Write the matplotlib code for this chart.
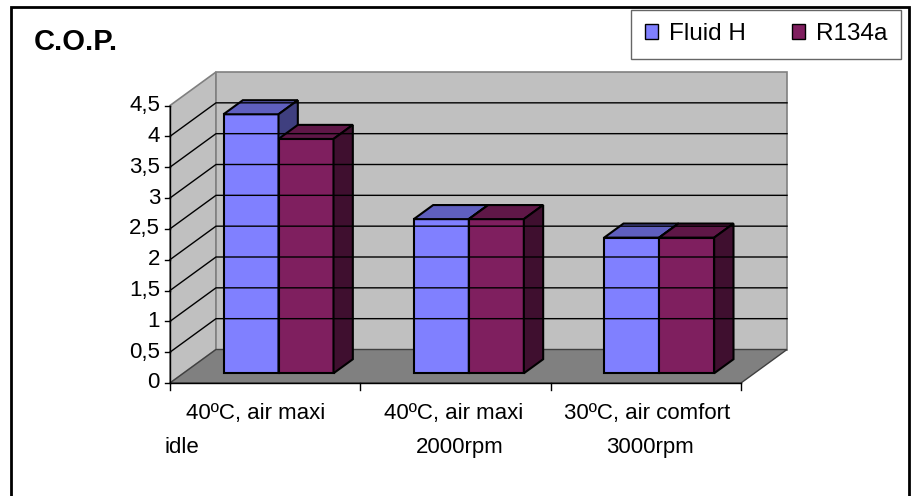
import matplotlib.pyplot as plt
from matplotlib.patches import Polygon, Rectangle, Patch

# chart data
categories_top = ["40ºC, air maxi", "40ºC, air maxi", "30ºC, air comfort"]
categories_bottom = ["idle", "2000rpm", "3000rpm"]
series_names = ["Fluid H", "R134a"]
fluid_h = [4.2, 2.5, 2.2]
r134a = [3.8, 2.5, 2.2]
y_ticks = [0, 0.5, 1, 1.5, 2, 2.5, 3, 3.5, 4, 4.5]
y_tick_labels = ["0", "0,5", "1", "1,5", "2", "2,5", "3", "3,5", "4", "4,5"]

plt.rcParams['font.family'] = ['Liberation Sans', 'DejaVu Sans']

# face colours: front, top, side
blue = ('#8080FF', '#5F5FBF', '#3F3F7F')
plum = ('#7F1F5F', '#5F1747', '#3F0F2F')

W, H = 913, 496
fig = plt.figure(figsize=(W / 100, H / 100), dpi=100)
ax = fig.add_axes([0, 0, 1, 1])

# front frame in pixels: categories 0..3, values 0..4.5
x0_px, x3_px = 170, 741
y0_px, ytop_px = 383, 105.5
ymax = y_ticks[-1]
sx = (x3_px - x0_px) / 3
sy = (y0_px - ytop_px) / ymax
ax.set_xlim(-x0_px / sx, (W - x0_px) / sx)
ax.set_ylim(-(H - y0_px) / sy, y0_px / sy)
ax.axis('off')

# oblique depth of the whole box
DX, DY = 46 / sx, 33.5 / sy
n = len(fluid_h)

# walls and floor
ax.add_patch(Polygon([(0, 0), (DX, DY), (DX, ymax + DY), (0, ymax)],
                     fc='#C0C0C0', ec='#808080', lw=1.2))
ax.add_patch(Polygon([(DX, DY), (n + DX, DY), (n + DX, ymax + DY), (DX, ymax + DY)],
                     fc='#C0C0C0', ec='#808080', lw=1.2))
ax.add_patch(Polygon([(0, 0), (n, 0), (n + DX, DY), (DX, DY)],
                     fc='#808080', ec='#404040', lw=1.0))

# gridlines on side wall and back wall
for v in y_ticks[1:-1]:
    ax.plot([0, DX, n + DX], [v, v + DY, v + DY], color='black', lw=1.0)

# axes lines and ticks
ax.plot([0, 0], [0, ymax], color='black', lw=1.0)
ax.plot([0, n], [0, 0], color='black', lw=1.0)
for v, lab in zip(y_ticks, y_tick_labels):
    ax.plot([-5 / sx, 0], [v, v], color='black', lw=1.0)
    ax.text(-10 / sx, v, lab, ha='right', va='center', fontsize=16)
for i in range(n + 1):
    ax.plot([i, i], [0, -7 / sy], color='black', lw=1.0)

# 3d bars
d0, d1 = 0.29, 0.71
dd = d1 - d0
bw = 55 / sx


def bar3d(xl, v, colors):
    yb = d0 * DY
    yt = yb + v
    ox, oy = dd * DX, dd * DY
    kw = dict(ec='black', lw=1.5, joinstyle='miter')
    ax.add_patch(Polygon([(xl, yb), (xl + bw, yb), (xl + bw, yt), (xl, yt)], fc=colors[0], **kw))
    ax.add_patch(Polygon([(xl, yt), (xl + bw, yt), (xl + bw + ox, yt + oy), (xl + ox, yt + oy)],
                         fc=colors[1], **kw))
    ax.add_patch(Polygon([(xl + bw, yb), (xl + bw + ox, yb + oy), (xl + bw + ox, yt + oy), (xl + bw, yt)],
                         fc=colors[2], **kw))


for i in range(n):
    c = i + 0.5 + d0 * DX
    bar3d(c - bw, fluid_h[i], blue)
    bar3d(c, r134a[i], plum)

# category labels (two lines each)
line1_dx = [-10, -2, 1]
for i in range(n):
    ax.text(i + 0.5 + line1_dx[i] / sx, -(419 - y0_px) / sy, categories_top[i],
            ha='center', va='baseline', fontsize=16)
ax.text(-5 / sx, -(453 - y0_px) / sy, categories_bottom[0], ha='left', va='baseline', fontsize=16)
for i in range(1, n):
    ax.text(i + 0.5 + 4 / sx, -(453 - y0_px) / sy, categories_bottom[i],
            ha='center', va='baseline', fontsize=16)

# title
fig.text(34 / W, 1 - 50 / H, "C.O.P.", fontsize=21, fontweight='bold', ha='left', va='baseline')

# legend
handles = [Patch(fc=blue[0], ec='black'), Patch(fc=plum[0], ec='black')]
leg = fig.legend(handles, series_names, loc='upper right', bbox_to_anchor=(901 / W, 1 - 10 / H),
                 ncol=2, frameon=True, fancybox=False, edgecolor='#404040', fontsize=17.5,
                 handlelength=0.55, handleheight=0.55, handletextpad=0.45, columnspacing=1.9,
                 borderpad=0.55, borderaxespad=0)
leg.get_frame().set_linewidth(1.0)

# outer chart border (open at the bottom edge of the image)
fig.add_artist(Rectangle((11 / W, -0.05), (909 - 11) / W, 0.05 + 1 - 7 / H,
                         transform=fig.transFigure, fill=False, ec='black', lw=2, clip_on=False))

fig.savefig('out.png', dpi=100)
